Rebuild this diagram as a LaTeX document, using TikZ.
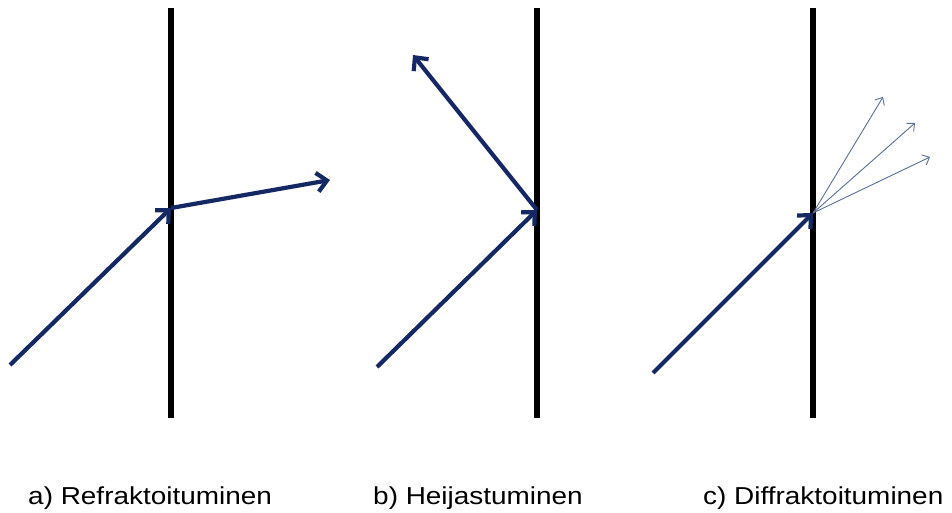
\documentclass[tikz,border=0pt]{standalone}
\usepackage{fontspec}
\setmainfont{Liberation Sans}
\usepackage{tikz}
\usetikzlibrary{arrows.meta}
\definecolor{ray}{RGB}{20,40,100}
\definecolor{thinray}{RGB}{90,110,150}

\begin{document}
\begin{tikzpicture}[x=1pt,y=-1pt,every node/.style={font=\fontsize{24.5}{27}\selectfont}]
\useasboundingbox (0,0) rectangle (952,513);
\tikzset{wall/.style={line width=6pt,black},
  beam/.style={line width=4.2pt,ray,-{Straight Barb[length=10pt,width=19pt,line width=4.2pt]}},
  thinbeam/.style={line width=0.9pt,thinray,-{Straight Barb[length=6pt,width=11pt,line width=0.9pt]}},
  caption/.style={anchor=base west,inner sep=0pt,xscale=1.14,transform shape}}

% a) refraction
\coordinate (a-top) at (171,8);
\coordinate (a-bot) at (171,418);
\coordinate (a-hit) at (171,208);
\coordinate (a-in) at (10,365);
\coordinate (a-out) at (330,180);
\draw[wall] (a-top) -- (a-bot);
\draw[beam] (a-in) -- (a-hit);
\draw[beam] (a-hit) -- (a-out);

% b) reflection
\coordinate (b-top) at (537,8);
\coordinate (b-bot) at (537,418);
\coordinate (b-hit) at (537,210);
\coordinate (b-in) at (377,367);
\coordinate (b-out) at (413,55);
\draw[wall] (b-top) -- (b-bot);
\draw[beam] (b-in) -- (b-hit);
\draw[beam] (b-hit) -- (b-out);

% c) diffraction
\coordinate (c-top) at (813,8);
\coordinate (c-bot) at (813,418);
\coordinate (c-hit) at (813,213);
\coordinate (c-in) at (653,373);
\coordinate (c-out1) at (883,97);
\coordinate (c-out2) at (915,123);
\coordinate (c-out3) at (930,157);
\draw[wall] (c-top) -- (c-bot);
\draw[beam] (c-in) -- (c-hit);
\foreach \i in {1,2,3}
  \draw[thinbeam] (c-hit) -- (c-out\i);

% Labels
\node[caption] (a-label) at (28,504) {a) Refraktoituminen};
\node[caption] (b-label) at (373,504) {b) Heijastuminen};
\node[caption] (c-label) at (703,504) {c) Diffraktoituminen};

\end{tikzpicture}
\end{document}
